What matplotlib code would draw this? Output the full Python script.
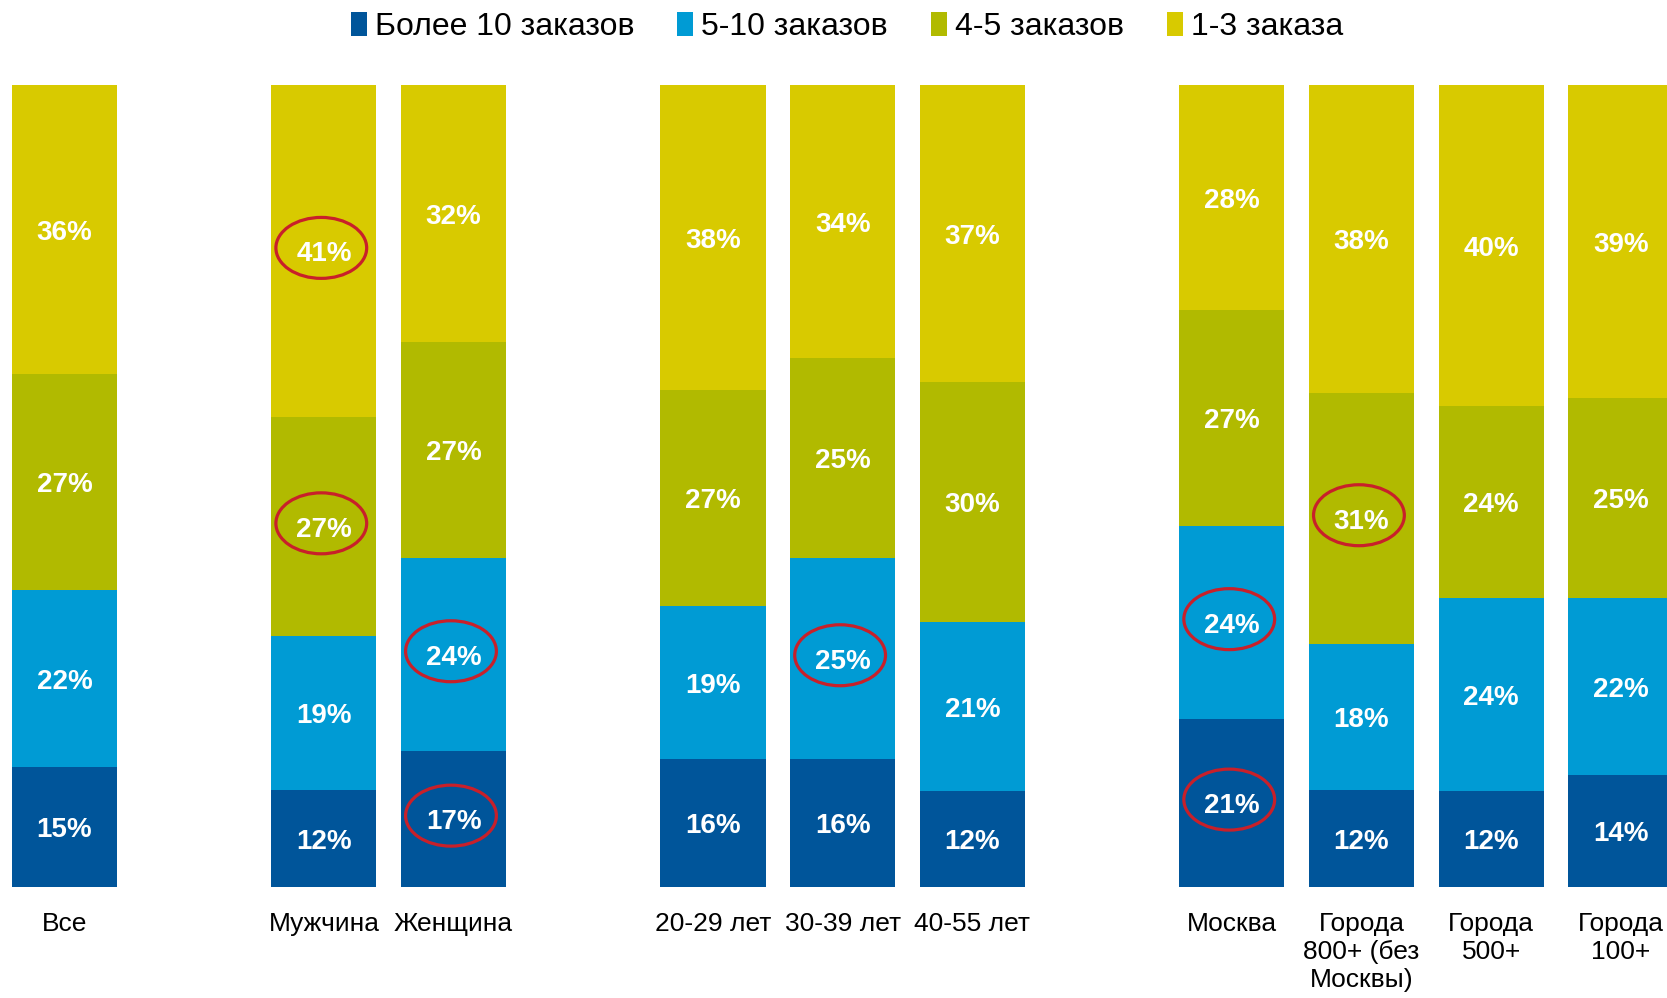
import numpy as np
import matplotlib
matplotlib.use('Agg')
import matplotlib.pyplot as plt
from matplotlib.patches import Ellipse, Patch

# данные
categories = ['Все', 'Мужчина', 'Женщина', '20-29 лет', '30-39 лет', '40-55 лет',
              'Москва', 'Города\n800+ (без\nМосквы)', 'Города\n500+', 'Города\n100+']
positions = [0, 2, 3, 5, 6, 7, 9, 10, 11, 12]
series = ['Более 10 заказов', '5-10 заказов', '4-5 заказов', '1-3 заказа']
more10 = [15, 12, 17, 16, 16, 12, 21, 12, 12, 14]
from5to10 = [22, 19, 24, 19, 25, 21, 24, 18, 24, 22]
from4to5 = [27, 27, 27, 27, 25, 30, 27, 31, 24, 25]
from1to3 = [36, 41, 32, 38, 34, 37, 28, 38, 40, 39]
# выделенные значения: (индекс столбца, индекс серии)
highlights = [(1, 3), (1, 2), (2, 1), (2, 0), (4, 1), (6, 1), (6, 0), (7, 2)]

colors = ['#00559A', '#009BD4', '#B1BA00', '#D8CA00']

plt.rcParams['font.family'] = ['Liberation Sans', 'DejaVu Sans']

fig = plt.figure(figsize=(16.67, 9.98), dpi=100)
ax = fig.add_axes([0, 0.1112, 1, 0.8036])

values = np.array([more10, from5to10, from4to5, from1to3], dtype=float)
shares = values / values.sum(axis=0) * 100

bottom = np.zeros(len(categories))
centers = []
for i in range(len(series)):
    ax.bar(positions, shares[i], bottom=bottom, width=0.81, color=colors[i],
           edgecolor='none', label=series[i])
    mid = bottom + shares[i] / 2
    centers.append(mid)
    for x, y, v in zip(positions, mid, values[i]):
        ax.text(x, y - 0.4, '%d%%' % v, ha='center', va='center', color='white',
                fontsize=20, fontweight='bold')
    bottom = bottom + shares[i]

for b, s in highlights:
    ax.add_patch(Ellipse((positions[b] - 0.02, centers[s][b] + 0.4), 0.7, 7.6,
                         fill=False, edgecolor='#C8202A', linewidth=2.3, zorder=5))

ax.set_xlim(-0.497, 12.355)
ax.set_ylim(0, 100)
ax.set_xticks(positions, categories)
ax.tick_params(axis='x', length=0, pad=18, labelsize=19)
ax.tick_params(axis='y', left=False, labelleft=False)
for lab in ax.get_xticklabels():
    lab.set_linespacing(1.2)
for sp in ax.spines.values():
    sp.set_visible(False)

handles = [Patch(facecolor=c, edgecolor='none') for c in colors]
fig.legend(handles, series, loc='center', bbox_to_anchor=(0.508, 0.973), ncol=4,
           frameon=False, handlelength=0.5, handleheight=0.8, handletextpad=0.25,
           columnspacing=1.35, prop={'size': 23})

fig.savefig('out.png', dpi=100)
